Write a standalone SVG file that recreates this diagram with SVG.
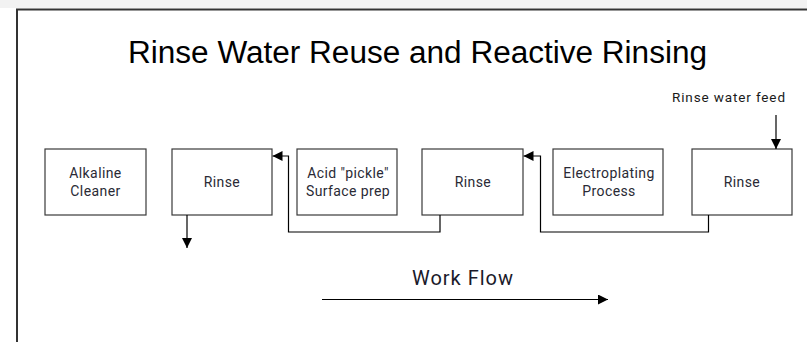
<svg xmlns="http://www.w3.org/2000/svg" width="807" height="342" viewBox="0 0 807 342">
  <style>
    .box { fill: #ffffff; stroke: #3a3a3a; stroke-width: 1.2; }
    .lbl { font-family: Roboto, "Liberation Sans", sans-serif; font-size: 14px; fill: #2a2a35; text-anchor: middle; letter-spacing: 0.4px; }
    .conn { fill: none; stroke: #000; stroke-width: 1.2; }
  </style>
  <defs>
    <marker id="ah" viewBox="0 0 10 10" refX="10" refY="5" markerWidth="10" markerHeight="10" markerUnits="userSpaceOnUse" orient="auto">
      <path d="M0,0 L10,5 L0,10 z" fill="#000"/>
    </marker>
  </defs>
  <rect x="0" y="0" width="807" height="342" fill="#ffffff"/>
  <rect x="0" y="0" width="807" height="8" fill="#f2f2f2"/>
  <g id="frame">
    <path d="M17,342 V9.5 H807" fill="none" stroke="#333" stroke-width="2"/>
  </g>
  <g id="title">
    <text x="128" y="63" font-family="'Liberation Sans', Arial, sans-serif" font-size="31" fill="#000" textLength="579" lengthAdjust="spacingAndGlyphs">Rinse Water Reuse and Reactive Rinsing</text>
  </g>
  <g id="alkaline">
    <rect class="box" x="45" y="149" width="101" height="66"/>
    <text class="lbl" x="95.5" y="178">Alkaline</text>
    <text class="lbl" x="95.5" y="196">Cleaner</text>
  </g>
  <g id="rinse1">
    <rect class="box" x="172" y="149" width="100" height="66"/>
    <text class="lbl" x="222" y="187">Rinse</text>
  </g>
  <g id="acid">
    <rect class="box" x="297" y="149" width="100" height="66"/>
    <text class="lbl" x="348" y="178">Acid "pickle"</text>
    <text class="lbl" x="348" y="196">Surface prep</text>
  </g>
  <g id="rinse2">
    <rect class="box" x="422" y="149" width="101" height="66"/>
    <text class="lbl" x="473" y="187">Rinse</text>
  </g>
  <g id="electroplating">
    <rect class="box" x="553" y="149" width="110" height="66"/>
    <text class="lbl" x="609" y="178">Electroplating</text>
    <text class="lbl" x="609" y="196">Process</text>
  </g>
  <g id="rinse3">
    <rect class="box" x="692" y="149" width="100" height="66"/>
    <text class="lbl" x="742" y="187">Rinse</text>
  </g>
  <g id="feed-label">
    <text x="672" y="102" font-family="Roboto, 'Liberation Sans', sans-serif" font-size="13.5" fill="#1a1a1a" textLength="113" lengthAdjust="spacing">Rinse water feed</text>
  </g>
  <g id="workflow-label">
    <text x="463" y="285" font-family="Roboto, 'Liberation Sans', sans-serif" font-size="20" fill="#1a1a2a" text-anchor="middle" letter-spacing="1">Work Flow</text>
  </g>
  <g id="connectors">
    <path class="conn" d="M440,215 V232 H288.5 V156 H272.5" marker-end="url(#ah)"/>
    <path class="conn" d="M708.5,215 V232 H540.5 V156 H523.5" marker-end="url(#ah)"/>
    <path class="conn" d="M776,115 V149" marker-end="url(#ah)"/>
    <path class="conn" d="M187,215 V248" marker-end="url(#ah)"/>
    <path class="conn" d="M322,299.5 H608" marker-end="url(#ah)"/>
  </g>
</svg>
